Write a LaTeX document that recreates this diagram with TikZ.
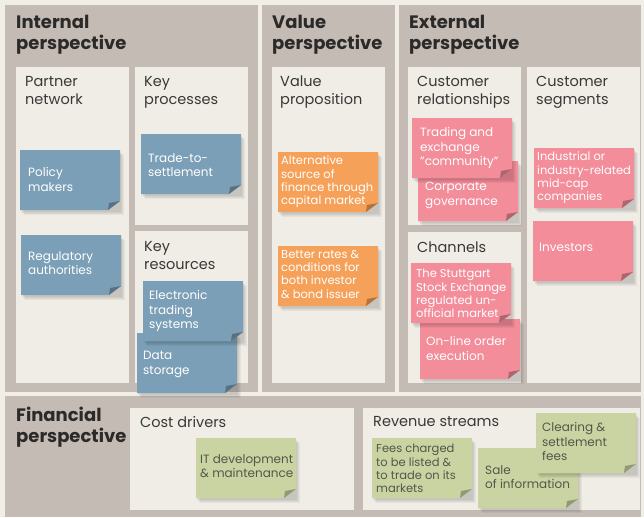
\documentclass[tikz,border=0pt]{standalone}
\usepackage{fontspec}
\setmainfont{Poppins}

\definecolor{pagebg}{HTML}{F1EEE8}
\definecolor{framegray}{HTML}{C3BBB4}
\definecolor{panelbg}{HTML}{F0EDE6}
\definecolor{headtext}{HTML}{2C2A29}
\definecolor{titletext}{HTML}{3A3837}
\definecolor{noteblue}{HTML}{7B9FB6}
\definecolor{noteorange}{HTML}{F6A15A}
\definecolor{notepink}{HTML}{F38D9A}
\definecolor{notegreen}{HTML}{C9D4A2}
\definecolor{greentext}{HTML}{56554A}

\tikzset{
  heading/.style={anchor=north west, align=left, inner sep=0pt,
    font=\fontsize{18}{21}\selectfont\bfseries, text=headtext},
  paneltitle/.style={anchor=north west, align=left, inner sep=0pt,
    font=\fontsize{14.5}{18}\selectfont, text=titletext},
  notetext/.style={anchor=north west, align=left, inner sep=0pt,
    font=\fontsize{12}{14.7}\selectfont, text=white},
  tight/.style={font=\fontsize{11.5}{13.3}\selectfont},
  ontgreen/.style={text=greentext},
}

% sticky note: [text style]{name}{x}{y}{colour}{text dx}{text dy}{text}
\newcommand{\sticky}[8][]{%
  \foreach \s in {1,...,4}
    \fill[black, opacity=0.045] (#3+\s,#4+\s+1) rectangle ++(100,60);
  \fill[#5] (#3,#4) -- ++(100,0) -- ++(0,51) -- ++(-12,9) -- ++(-88,0) -- cycle;
  \fill[#5!72!black] (#3+88,#4+60) -- (#3+100,#4+51) -- (#3+89,#4+53) -- cycle;
  \node[notetext,#1] (#2) at (#3+#6,#4+#7) {#8};
}

\begin{document}
\begin{tikzpicture}[x=1pt,y=-1pt]
\fill[pagebg] (0,0) rectangle (644,517);
\useasboundingbox (0,0) rectangle (644,517);

% perspectives
\fill[framegray] (5,5) rectangle (258,392);
\fill[framegray] (262,5) rectangle (395,392);
\fill[framegray] (399,5) rectangle (641,392);
\fill[framegray] (5,396) rectangle (641,517);

\node[heading] (internal) at (16,15) {Internal\\perspective};
\node[heading] (value) at (272,15) {Value\\perspective};
\node[heading] (external) at (409,15) {External\\perspective};
\node[heading] (financial) at (16,407) {Financial\\perspective};

% building blocks
\fill[panelbg] (16,67) rectangle (129,383);
\fill[panelbg] (135,67) rectangle (248,225);
\fill[panelbg] (135,231) rectangle (248,383);
\fill[panelbg] (272,67) rectangle (385,383);
\fill[panelbg] (408,67) rectangle (521,225);
\fill[panelbg] (408,232) rectangle (521,383);
\fill[panelbg] (527,67) rectangle (640,383);
\fill[panelbg] (130,408) rectangle (354,510);
\fill[panelbg] (363,408) rectangle (640,510);

\node[paneltitle] (pn) at (25,76) {Partner\\network};
\node[paneltitle] (kp) at (144,76) {Key\\processes};
\node[paneltitle] (kr) at (144,241) {Key\\resources};
\node[paneltitle] (vp) at (280,76) {Value\\proposition};
\node[paneltitle] (cr) at (417,76) {Customer\\relationships};
\node[paneltitle] (ch) at (417,242) {Channels};
\node[paneltitle] (cs) at (536,76) {Customer\\segments};
\node[paneltitle] (cd) at (140,416) {Cost drivers};
\node[paneltitle] (rs) at (373,416) {Revenue streams};

% notes
\sticky{pm}{20}{150}{noteblue}{8}{17}{Policy\\makers}
\sticky{tts}{141}{134}{noteblue}{7}{19}{Trade-to-\\settlement}
\sticky{ra}{21}{235}{noteblue}{7}{16}{Regulatory\\authorities}
\sticky{ds}{137}{333}{noteblue}{6}{18}{Data\\storage}
\sticky{ets}{143}{281}{noteblue}{6}{9}{Electronic\\trading\\systems}

\sticky[tight]{asf}{278}{152}{noteorange}{3}{4}{Alternative\\source of\\finance through\\capital market}
\sticky[tight]{brc}{278}{246}{noteorange}{3}{4}{Better rates \&\\conditions for\\both investor\\\& bond issuer}

\sticky{cg}{418}{161}{notepink}{7}{21}{Corporate\\governance}
\sticky{tec}{412}{118}{notepink}{8}{9}{Trading and\\exchange\\"community"}
\sticky[tight]{icm}{534}{148}{notepink}{3}{4}{Industrial or\\industry-related\\mid-cap\\companies}
\sticky{inv}{533}{221}{notepink}{6}{22}{Investors}
\sticky{ool}{420}{319}{notepink}{6}{17}{On-line order\\execution}
\sticky[tight]{sse}{411}{263}{notepink}{5}{6}{The Stuttgart\\Stock Exchange\\regulated un-\\official market}

\sticky[ontgreen]{itd}{196}{438}{notegreen}{4}{16}{IT development\\\& maintenance}
\sticky[ontgreen,tight]{fcl}{372}{438}{notegreen}{4}{6}{Fees charged\\to be listed \&\\to trade on its\\markets}
\sticky[ontgreen]{soi}{478}{448}{notegreen}{7}{17}{Sale\\of information}
\sticky[ontgreen]{csf}{536}{413}{notegreen}{6}{9}{Clearing \&\\settlement\\fees}

\end{tikzpicture}
\end{document}
